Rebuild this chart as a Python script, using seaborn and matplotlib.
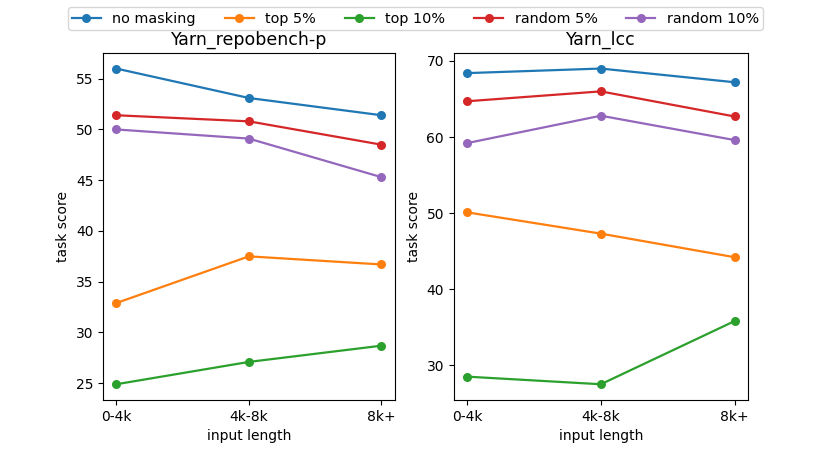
import seaborn as sns
import matplotlib.pyplot as plt
import pandas as pd

lengths = ["0-4k", "4k-8k", "8k+"]
methods = ["no masking", "top 5%", "top 10%", "random 5%", "random 10%"]

# Yarn_repobench-p
repobench = {
    "no masking": [56.0, 53.1, 51.4],
    "top 5%": [32.9, 37.5, 36.7],
    "top 10%": [24.9, 27.1, 28.7],
    "random 5%": [51.4, 50.8, 48.5],
    "random 10%": [50.0, 49.1, 45.3],
}

# Yarn_lcc
lcc = {
    "no masking": [68.4, 69.0, 67.2],
    "top 5%": [50.1, 47.3, 44.2],
    "top 10%": [28.5, 27.5, 35.8],
    "random 5%": [64.7, 66.0, 62.7],
    "random 10%": [59.2, 62.8, 59.6],
}


def to_long(d):
    rows = []
    for m in methods:
        for l, v in zip(lengths, d[m]):
            rows.append({"method": m, "input length": l, "task score": v})
    return pd.DataFrame(rows)


palette = dict(zip(methods, sns.color_palette("tab10", 5)))

fig = plt.figure(figsize=(8.31, 4.51), dpi=100)
ax1 = fig.add_axes([0.124, 0.113, 0.351, 0.77])
ax2 = fig.add_axes([0.546, 0.113, 0.354, 0.77])

for ax, d, title in [(ax1, repobench, "Yarn_repobench-p"), (ax2, lcc, "Yarn_lcc")]:
    sns.lineplot(data=to_long(d), x="input length", y="task score", hue="method",
                 hue_order=methods, palette=palette, marker="o", markersize=6.5,
                 markeredgewidth=0, linewidth=1.6, sort=False, ax=ax)
    ax.set_title(title, fontsize=12.5)
    ax.get_legend().remove()

handles, labels = ax1.get_legend_handles_labels()
fig.legend(handles, labels, loc="upper center", ncol=5, bbox_to_anchor=(0.5, 1.0),
           frameon=True, fontsize=10.4, borderpad=0.3)

fig.savefig("out.png", dpi=100)
